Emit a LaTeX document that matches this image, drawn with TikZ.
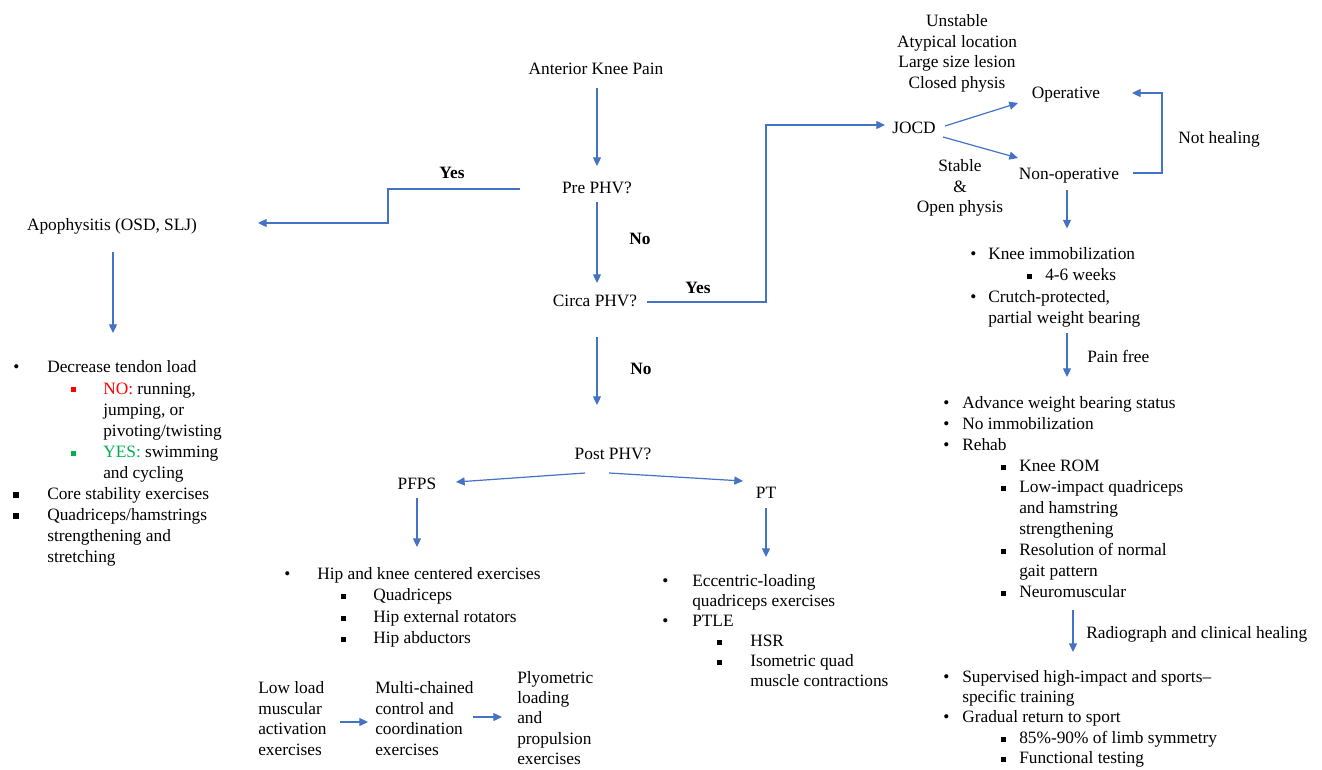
\documentclass[tikz,border=0pt]{standalone}
\usepackage{fontspec}
\setmainfont{Liberation Serif}
\usetikzlibrary{arrows.meta}
\definecolor{arrblue}{HTML}{4472C4}
\definecolor{nored}{HTML}{FF0000}
\definecolor{yesgreen}{HTML}{00B050}
\newdimen\pxu \pxu=0.75pt
\newcommand\tp{\rule{0pt}{12.5pt}}
\newcommand\bul[1]{\makebox[#1\pxu][l]{\textbullet}}
\newcommand\sqb[3]{\makebox[#2\pxu][l]{\textcolor{#1}{\rule[1.2pt]{#3\pxu}{#3\pxu}}}}
\newcommand\hsk[1]{\hspace*{#1\pxu}}
\begin{document}
\begin{tikzpicture}[x=0.75pt,y=-0.75pt,
  lbl/.style={inner sep=0pt, text height=12pt, text depth=3pt, font=\fontsize{13pt}{16pt}\selectfont},
  blbl/.style={lbl, font=\fontsize{13pt}{16pt}\selectfont\bfseries},
  lst/.style={anchor=north west, align=left, inner sep=0pt, font=\fontsize{13pt}{#1}\selectfont},
  lst/.default=15.9pt,
  cblk/.style={anchor=north, align=center, inner sep=0pt, font=\fontsize{13pt}{15.5pt}\selectfont},
  arr/.style={draw=arrblue, line width=0.9pt, -{Triangle[length=6.5pt,width=6pt]}, fill=none},
]
\fill[white] (0,0) rectangle (1322,769);
\useasboundingbox (0,0) rectangle (1322,769);

% main labels
\node[lbl] (akp) at (596,68) {Anterior Knee Pain};
\node[lbl] (pre) at (597,187) {Pre PHV?};
\node[lbl] (circa) at (595,300) {Circa PHV?};
\node[lbl] (post) at (613,453) {Post PHV?};
\node[lbl] (apo) at (112,224) {Apophysitis (OSD, SLJ)};
\node[lbl] (pfps) at (417,483) {PFPS};
\node[lbl] (pt) at (766,492) {PT};
\node[lbl] (jocd) at (914,127) {JOCD};
\node[lbl] (op) at (1066,92) {Operative};
\node[lbl] (nonop) at (1069,173) {Non-operative};
\node[blbl] (yes1) at (452,172) {Yes};
\node[blbl] (no1) at (640,238) {No};
\node[blbl] (yes2) at (698,287) {Yes};
\node[blbl] (no2) at (641,368) {No};
\node[lbl] (nh) at (1219,137) {Not healing};
\node[lbl, anchor=west] (painfree) at (1087,356) {Pain free};
\node[lbl, anchor=west] (radio) at (1086,632) {Radiograph and clinical healing};
\node[cblk] (us) at (957,9.5) {\tp Unstable\\Atypical location\\Large size lesion\\Closed physis};
\node[cblk] (st) at (960,154.5) {\tp Stable\\\&\\Open physis};

% lists
\node[lst=15.8pt] (l1) at (13,356) {\tp\bul{34}Decrease tendon load\\
\hsk{58}\sqb{nored}{32}{5}\textcolor{nored}{NO:} running,\\
\hsk{90}jumping, or\\
\hsk{90}pivoting/twisting\\
\hsk{58}\sqb{yesgreen}{32}{5}\textcolor{yesgreen}{YES:} swimming\\
\hsk{90}and cycling\\
\sqb{black}{34}{6}Core stability exercises\\
\sqb{black}{34}{6}Quadriceps/hamstrings\\
\hsk{34}strengthening and\\
\hsk{34}stretching};

\node[lst=16pt] (k1) at (970,242.5) {\tp\bul{18}Knee immobilization\\
\hsk{57}\sqb{black}{18}{5}4-6 weeks\\
\bul{18}Crutch-protected,\\
\hsk{18}partial weight bearing};

\node[lst=15.75pt] (r1) at (943,392) {\tp\bul{19}Advance weight bearing status\\
\bul{19}No immobilization\\
\bul{19}Rehab\\
\hsk{58}\sqb{black}{18}{5}Knee ROM\\
\hsk{58}\sqb{black}{18}{5}Low-impact quadriceps\\
\hsk{76}and hamstring\\
\hsk{76}strengthening\\
\hsk{58}\sqb{black}{18}{5}Resolution of normal\\
\hsk{76}gait pattern\\
\hsk{58}\sqb{black}{18}{5}Neuromuscular};

\node[lst=15.2pt] (r2) at (943,665.5) {\tp\bul{19}Supervised high-impact and sports--\\
\hsk{19}specific training\\
\bul{19}Gradual return to sport\\
\hsk{58}\sqb{black}{18}{5}85\%-90\% of limb symmetry\\
\hsk{58}\sqb{black}{18}{5}Functional testing};

\node[lst=16pt] (pf) at (284,562.5) {\tp\bul{33}Hip and knee centered exercises\\
\hsk{57}\sqb{black}{32}{5}Quadriceps\\
\hsk{57}\sqb{black}{32}{5}Hip external rotators\\
\hsk{57}\sqb{black}{32}{5}Hip abductors};

\node[lst=15pt] (ptl) at (662,569.5) {\tp\bul{30}Eccentric-loading\\
\hsk{30}quadriceps exercises\\
\bul{30}PTLE\\
\hsk{55}\sqb{black}{33}{5}HSR\\
\hsk{55}\sqb{black}{33}{5}Isometric quad\\
\hsk{88}muscle contractions};

\node[lst=15.5pt] (b1) at (258,676.5) {\tp Low load\\muscular\\activation\\exercises};
\node[lst=15.5pt] (b2) at (375,676.5) {\tp Multi-chained\\control and\\coordination\\exercises};
\node[lst=15.2pt] (b3) at (517,666.5) {\tp Plyometric\\loading\\and\\propulsion\\exercises};

% connectors
\draw[arr] ([shift={(1,20)}]akp.center) -- ([shift={(0,-21)}]pre.center);
\draw[arr] ([shift={(0,15)}]pre.center) -- ([shift={(2,-17)}]circa.center);
\draw[arr] ([shift={(2,37)}]circa.center) -- ([shift={(-16,-48)}]post.center);
\draw[arr] ([shift={(-77,2)}]pre.center) -- ++(-132,0) |- ([shift={(146,-1)}]apo.center);
\draw[arr] ([shift={(52,2)}]circa.center) -- ++(119,0) |- ([shift={(-29,-2)}]jocd.center);
\draw[arr] ([shift={(31,-1)}]jocd.center) -- ([shift={(-48,11)}]op.center);
\draw[arr] ([shift={(29,10)}]jocd.center) -- ([shift={(-51,-15)}]nonop.center);
\draw[arr] ([shift={(64,0)}]nonop.center) -- ++(29,0) |- ([shift={(66,1)}]op.center);
\draw[arr] ([shift={(-2,17)}]nonop.center) -- ([shift={(97,-14)}]k1.north west);
\draw[arr] ([shift={(97,90.5)}]k1.north west) -- ([shift={(124,-15)}]r1.north west);
\draw[arr] ([shift={(130,218)}]r1.north west) -- ([shift={(130,-13.5)}]r2.north west);
\draw[arr] ([shift={(1,28)}]apo.center) -- ([shift={(100,-23)}]l1.north west);
\draw[arr] ([shift={(-28,20)}]post.center) -- ([shift={(39,-1)}]pfps.center);
\draw[arr] ([shift={(-4,20)}]post.center) -- ([shift={(-23,-11)}]pt.center);
\draw[arr] ([shift={(0,15)}]pfps.center) -- ([shift={(133,-15.5)}]pf.north west);
\draw[arr] ([shift={(0,16)}]pt.center) -- ([shift={(104,-12.5)}]ptl.north west);
\draw[arr] ([shift={(82,45.5)}]b1.north west) -- ([shift={(-7,45.5)}]b2.north west);
\draw[arr] ([shift={(98,40.5)}]b2.north west) -- ([shift={(-15,50.5)}]b3.north west);
\end{tikzpicture}
\end{document}
